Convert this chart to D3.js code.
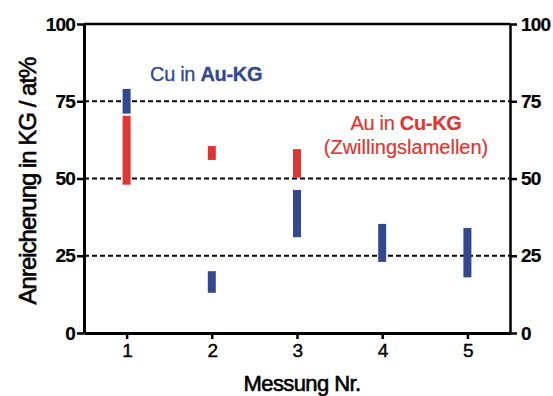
<!DOCTYPE html>
<html>
<head>
<meta charset="utf-8">
<script src="https://cdn.jsdelivr.net/npm/d3@7"></script>
<style>
  html, body { margin: 0; padding: 0; background: #fff; }
  svg { display: block; font-family: "Liberation Sans", Arial, sans-serif; }
</style>
</head>
<body>
<svg id="chart" width="553" height="396"></svg>
<script>
// Measurement numbers
const messungen = [1, 2, 3, 4, 5];
// Cu enrichment in Au grain boundaries (range per measurement, at%)
const cuMin = [71, 13, 31, 23, 18];
const cuMax = [79, 20, 46.3, 35.3, 34];
// Au enrichment in Cu grain boundaries (twin lamellae), only first three measurements
const auMin = [48, 56, 50.3, null, null];
const auMax = [70.3, 60.5, 59.5, null, null];
// Axis ticks
const yTicks = [0, 25, 50, 75, 100];
const gridValues = [25, 50, 75];

const BLUE = "#33488f";
const RED = "#de3634";

const svg = d3.select("#chart");
const plotLeft = 84, plotRight = 510, plotTop = 24, plotBottom = 333;

const x = d3.scaleLinear().domain([0.5, 5.5]).range([plotLeft, plotRight]);
const y = d3.scaleLinear().domain([0, 100]).range([plotBottom, plotTop]);

// dashed reference lines
svg.append("g").selectAll("line").data(gridValues).join("line")
  .attr("x1", plotLeft).attr("x2", plotRight)
  .attr("y1", d => y(d)).attr("y2", d => y(d))
  .attr("stroke", "#000").attr("stroke-width", 2)
  .attr("stroke-dasharray", "5,3");

// frame: top edge
svg.append("line").attr("x1", plotLeft).attr("x2", plotRight).attr("y1", plotTop).attr("y2", plotTop)
  .attr("stroke", "#000").attr("stroke-width", 2.5);

// axes
function styleAxis(g, bold, size) {
  g.select(".domain").attr("stroke", "#000");
  g.selectAll(".tick line").attr("stroke", "#000").attr("stroke-width", 2.5);
  g.selectAll(".tick text").attr("fill", "#000")
    .attr("stroke", "#000").attr("stroke-width", bold ? 0.2 : 0.4)
    .style("font-size", size + "px")
    .style("font-weight", bold ? "bold" : "normal")
    .style("letter-spacing", "-0.8px")
    .style("font-family", '"Liberation Sans", Arial, sans-serif');
}

const gl = svg.append("g").attr("transform", `translate(${plotLeft},0)`)
  .call(d3.axisLeft(y).tickValues(yTicks).tickSize(7).tickPadding(2).tickSizeOuter(0));
gl.select(".domain").attr("stroke-width", 3);
styleAxis(gl, true, 19);

const gr = svg.append("g").attr("transform", `translate(${plotRight},0)`)
  .call(d3.axisRight(y).tickValues(yTicks).tickSize(7).tickPadding(4).tickSizeOuter(0));
gr.select(".domain").attr("stroke-width", 2.5);
styleAxis(gr, true, 19);

const gb = svg.append("g").attr("transform", `translate(0,${plotBottom})`)
  .call(d3.axisBottom(x).tickValues(messungen).tickFormat(d3.format("d")).tickSize(6).tickPadding(5).tickSizeOuter(0));
gb.select(".domain").attr("stroke-width", 3);
styleAxis(gb, false, 19);

// range bars
const barW = 8;
const cuData = messungen.map((m, i) => ({ m, lo: cuMin[i], hi: cuMax[i] }));
const auData = messungen.map((m, i) => ({ m, lo: auMin[i], hi: auMax[i] })).filter(d => d.lo != null);

svg.append("g").selectAll("rect").data(auData).join("rect")
  .attr("x", d => x(d.m) - barW / 2).attr("width", barW)
  .attr("y", d => y(d.hi)).attr("height", d => y(d.lo) - y(d.hi))
  .attr("fill", RED);

svg.append("g").selectAll("rect").data(cuData).join("rect")
  .attr("x", d => x(d.m) - barW / 2).attr("width", barW)
  .attr("y", d => y(d.hi)).attr("height", d => y(d.lo) - y(d.hi))
  .attr("fill", BLUE);

// series labels
const t1 = svg.append("text").attr("x", 150).attr("y", 81)
  .attr("fill", BLUE).attr("stroke", BLUE).attr("stroke-width", 0.3)
  .style("font-size", "20px").style("letter-spacing", "-0.3px");
t1.append("tspan").text("Cu in ");
t1.append("tspan").attr("font-weight", "bold").text("Au-KG");

const t2 = svg.append("text").attr("x", 406).attr("y", 130).attr("text-anchor", "middle")
  .attr("fill", RED).attr("stroke", RED).attr("stroke-width", 0.2)
  .style("font-size", "20px").style("letter-spacing", "-0.3px");
t2.append("tspan").text("Au in ");
t2.append("tspan").attr("font-weight", "bold").text("Cu-KG");

svg.append("text").attr("x", 406).attr("y", 154).attr("text-anchor", "middle")
  .attr("fill", RED).attr("stroke", RED).attr("stroke-width", 0.2)
  .style("font-size", "20px")
  .text("(Zwillingslamellen)");

// axis titles
svg.append("text").attr("transform", "translate(36,181) rotate(-90)")
  .attr("text-anchor", "middle").attr("fill", "#000")
  .attr("stroke", "#000").attr("stroke-width", 0.6)
  .style("font-size", "24px").style("letter-spacing", "-1px")
  .text("Anreicherung in KG / at%");

svg.append("text").attr("x", 302).attr("y", 391)
  .attr("text-anchor", "middle").attr("fill", "#000")
  .attr("stroke", "#000").attr("stroke-width", 0.6)
  .style("font-size", "22px").style("letter-spacing", "-0.6px")
  .text("Messung Nr.");
</script>
</body>
</html>
